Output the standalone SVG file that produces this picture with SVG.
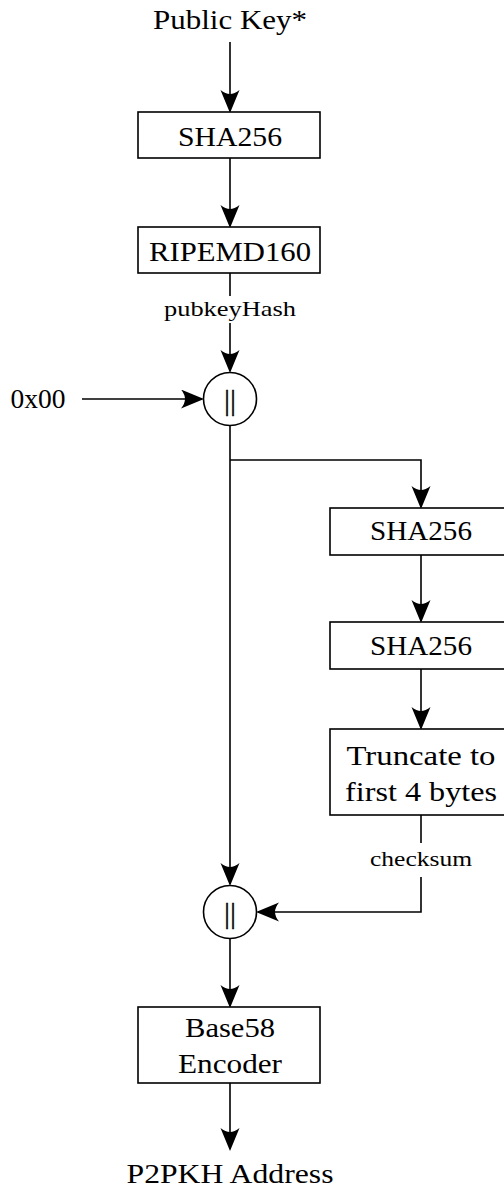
<svg xmlns="http://www.w3.org/2000/svg" width="504" height="1189" viewBox="0 0 504 1189">
<style>
text{font-family:'Liberation Serif','Times New Roman','DejaVu Serif',serif;fill:#000;text-anchor:middle}
.t{font-size:27px}
.s{font-size:21px}
.p{font-size:30px;stroke:#000;stroke-width:0.3}
.box{fill:#fff;stroke:#000;stroke-width:1.6}
.c{fill:none;stroke:#000;stroke-width:1.6}
</style>
<defs>
<marker id="ah" markerUnits="userSpaceOnUse" markerWidth="24" markerHeight="20" refX="21" refY="9.5" orient="auto">
<path d="M23,9.5 L0,0 Q4,5 4,9.5 Q4,14 0,19 z" fill="#000"/>
</marker>
</defs>
<g id="connectors" class="c">
<line x1="230" y1="42" x2="230" y2="111" marker-end="url(#ah)"/>
<line x1="230" y1="158" x2="230" y2="226" marker-end="url(#ah)"/>
<line x1="230" y1="273" x2="230" y2="296"/>
<line x1="230" y1="323" x2="230" y2="371" marker-end="url(#ah)"/>
<line x1="82" y1="399" x2="202" y2="399" marker-end="url(#ah)"/>
<line x1="230" y1="426" x2="230" y2="884" marker-end="url(#ah)"/>
<path d="M230,460 H421 V507" marker-end="url(#ah)"/>
<line x1="421" y1="555" x2="421" y2="621" marker-end="url(#ah)"/>
<line x1="421" y1="669" x2="421" y2="728" marker-end="url(#ah)"/>
<line x1="421" y1="815" x2="421" y2="843"/>
<path d="M421,877 V912 H258" marker-end="url(#ah)"/>
<line x1="230" y1="939" x2="230" y2="1006" marker-end="url(#ah)"/>
<line x1="230" y1="1083" x2="230" y2="1149" marker-end="url(#ah)"/>
</g>
<g id="input"><text class="t" x="230" y="29" textLength="154" lengthAdjust="spacingAndGlyphs">Public Key*</text></g>
<g id="sha1"><rect class="box" x="138" y="112" width="182" height="46"/><text class="t" x="230" y="146" textLength="104" lengthAdjust="spacingAndGlyphs">SHA256</text></g>
<g id="ripemd"><rect class="box" x="138" y="227" width="182" height="46"/><text class="t" x="230" y="261" textLength="162" lengthAdjust="spacingAndGlyphs">RIPEMD160</text></g>
<g id="lbl-pubkeyhash"><text class="s" x="230" y="316" textLength="132" lengthAdjust="spacingAndGlyphs">pubkeyHash</text></g>
<g id="prefix"><text class="t" x="38" y="408" textLength="55" lengthAdjust="spacingAndGlyphs">0x00</text></g>
<g id="concat1"><circle class="box" cx="230" cy="399" r="26.5"/><text class="p" x="230" y="410">||</text></g>
<g id="sha2"><rect class="box" x="330" y="508" width="182" height="47"/><text class="t" x="421" y="540" textLength="102" lengthAdjust="spacingAndGlyphs">SHA256</text></g>
<g id="sha3"><rect class="box" x="330" y="622" width="182" height="47"/><text class="t" x="421" y="655" textLength="102" lengthAdjust="spacingAndGlyphs">SHA256</text></g>
<g id="truncate"><rect class="box" x="330" y="729" width="182" height="86"/><text class="t" x="421" y="765" textLength="149" lengthAdjust="spacingAndGlyphs">Truncate to</text><text class="t" x="421" y="801" textLength="152" lengthAdjust="spacingAndGlyphs">first 4 bytes</text></g>
<g id="lbl-checksum"><text class="s" x="421" y="866" textLength="102" lengthAdjust="spacingAndGlyphs">checksum</text></g>
<g id="concat2"><circle class="box" cx="230" cy="912" r="26.5"/><text class="p" x="230" y="923">||</text></g>
<g id="base58"><rect class="box" x="138" y="1007" width="182" height="76"/><text class="t" x="230" y="1037" textLength="90" lengthAdjust="spacingAndGlyphs">Base58</text><text class="t" x="230" y="1073" textLength="104" lengthAdjust="spacingAndGlyphs">Encoder</text></g>
<g id="output"><text class="t" x="230" y="1183" textLength="207" lengthAdjust="spacingAndGlyphs">P2PKH Address</text></g>
</svg>
